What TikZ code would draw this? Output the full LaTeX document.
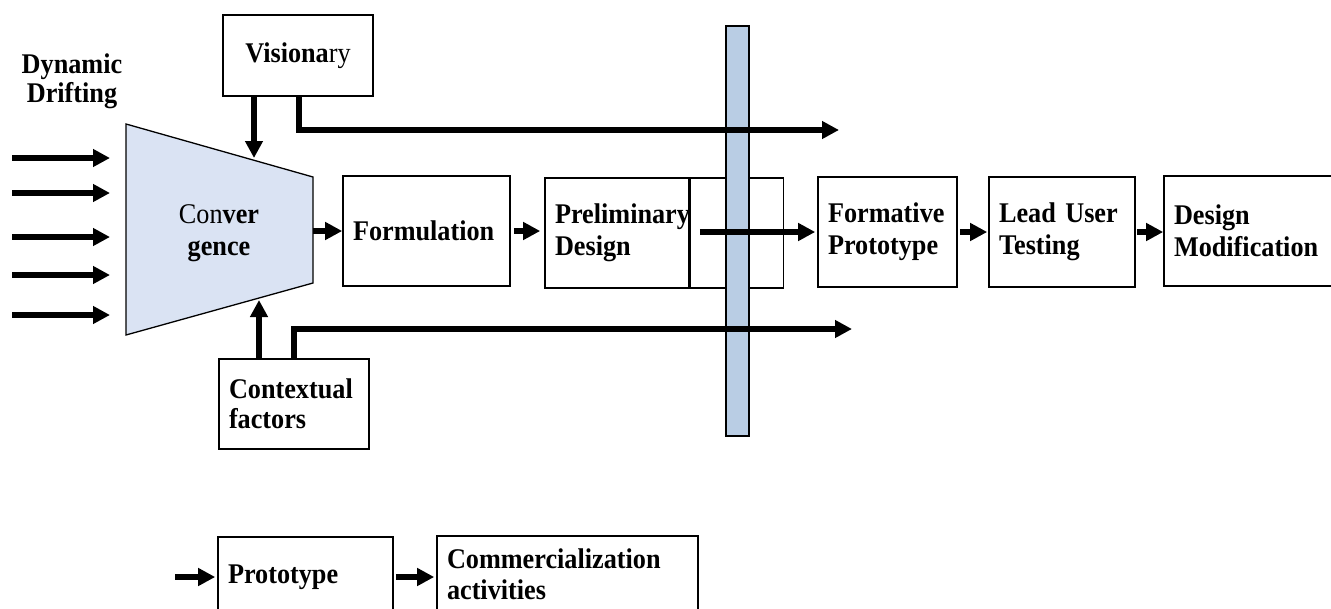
\documentclass[tikz,border=0pt]{standalone}
\usepackage{fontspec}
\setmainfont{Liberation Serif}[FakeStretch=0.92]
\usetikzlibrary{arrows.meta,calc}
\hyphenpenalty=10000
\exhyphenpenalty=10000
\definecolor{convfill}{RGB}{218,227,243}
\definecolor{barfill}{RGB}{185,205,228}
\begin{document}
\begin{tikzpicture}[x=1pt,y=-1pt,
  txt/.style={font=\fontsize{28.5}{32}\selectfont\bfseries},
  box/.style={draw, line width=1.6pt, rectangle, inner xsep=10pt, inner ysep=2pt, align=left, txt},
  arr/.style={line width=5.8pt, -{Triangle[length=17pt,width=17pt]}}]
\useasboundingbox (0,0) rectangle (1331,608);
\clip (0,0) rectangle (1331,608);

% convergence funnel
\coordinate (tl) at (126,124);
\coordinate (tr) at (313,177);
\coordinate (br) at (313,283);
\coordinate (bl) at (126,335);
\draw[fill=convfill, line width=1.3pt] (tl) -- (tr) -- (br) -- (bl) -- cycle;
\node[txt, align=center, font=\fontsize{28.5}{32}\selectfont\bfseries] (conv) at (219,233) {\textmd{Con}ver\\gence};

\node[txt, align=center, font=\fontsize{28.5}{29}\selectfont\bfseries] (dd) at (72,81) {Dynamic\\Drifting};

% boxes
\node[box, align=center, minimum width=150pt, minimum height=81pt] (vis) at (298,55.5) {Visiona\textmd{ry}};
\node[box, text width=130pt, minimum height=90pt, font=\fontsize{28.5}{30}\selectfont\bfseries] (ctx) at (294,404) {Contextual\\factors};
\node[box, text width=147pt, minimum height=110pt] (form) at (426.5,231) {Formulation};
\node[box, text width=124pt, minimum height=110pt] (prelim) at (617,233) {Preliminary\\Design};
\node[box, minimum width=93pt, minimum height=110pt, anchor=west] (pxbox) at (prelim.east) {};
\node[box, text width=119pt, minimum height=110pt] (fp) at (887.5,232) {Formative\\Prototype};
\node[box, text width=126pt, minimum height=110pt] (lead) at (1062,232) {Lead User\\Testing};
\node[box, text width=180pt, minimum height=110pt] (dm) at (1264,231) {Design\\Modification};
\node[box, text width=155pt, minimum height=80pt] (proto) at (305.5,577) {Prototype};
\node[box, text width=241pt, minimum height=77pt, font=\fontsize{28.5}{31}\selectfont\bfseries] (comm) at (567.5,574.5) {Commercialization\\activities};

% vertical bar
\node[draw, fill=barfill, line width=1.8pt, minimum width=23pt, minimum height=410pt, inner sep=0pt] (bar) at (737.5,231) {};

% incoming drift arrows
\foreach \i/\y in {1/158,2/193,3/237,4/275,5/315}{
  \coordinate (in\i) at (12,\y);
  \coordinate (tip\i) at (110,\y);
  \draw[arr] (in\i) -- (tip\i);
}

% connectors
\coordinate (vin) at (254,158);
\coordinate (vend) at (839,130);
\coordinate (cin) at (259,300);
\coordinate (cend) at (852,329);
\coordinate (cr) at (313,231);
\draw[arr] (vis.south -| vin) -- (vin);
\draw[arr] ($(vis.south)+(1,0)$) |- (vend);
\draw[arr] (ctx.north -| cin) -- (cin);
\draw[arr] (ctx.north) |- (cend);
\draw[arr] (cr) -- (form.west);
\draw[arr, shorten <=3pt, shorten >=4pt] (form.east) -- (form.east -| prelim.west);
\draw[arr, shorten >=2pt] ($(pxbox.west |- fp.west)+(10,0)$) -- (fp.west);
\draw[arr, shorten <=2pt, shorten >=1pt] (fp.east) -- (fp.east -| lead.west);
\draw[arr, shorten <=1pt] (lead.east) -- (lead.east -| dm.west);
\coordinate (pin) at (175,577);
\draw[arr, shorten >=2pt] (pin) -- (proto.west);
\draw[arr, shorten <=2pt, shorten >=2pt] (proto.east) -- (proto.east -| comm.west);
\end{tikzpicture}
\end{document}
